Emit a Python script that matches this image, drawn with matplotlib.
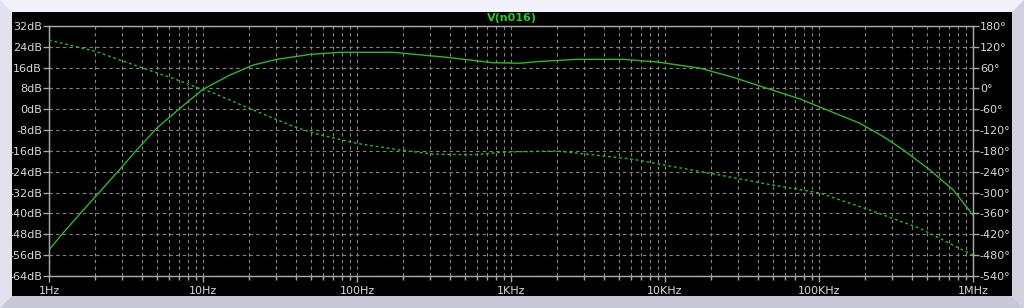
import matplotlib
matplotlib.use('Agg')
import matplotlib.pyplot as plt
from matplotlib.patches import Polygon, Rectangle
from matplotlib.ticker import FixedLocator, LogLocator, NullFormatter

# magnitude trace
mag_freq = [1.0, 1.2, 1.67, 2.14, 2.89, 3.71, 5.0, 7.08, 10.0, 15.0, 21.2, 30.1,
            42.7, 49.5, 77.6, 171, 380, 764, 1140, 1470, 2670, 5360, 8830,
            16900, 27700, 45700, 75300, 101000, 185000, 262000, 353000,
            526000, 745000, 1000000]
mag_db = [-54.0, -48.3, -38.7, -31.6, -23.0, -15.6, -7.3, 0.4, 7.7, 13.2, 17.0,
          19.2, 20.5, 21.1, 21.9, 21.9, 20.0, 17.9, 17.7, 18.3, 19.2, 19.2,
          18.2, 15.8, 12.3, 8.1, 4.0, 0.9, -5.4, -10.5, -15.6, -23.3, -31.0,
          -40.6]

# phase trace
ph_freq = [1.0, 2.04, 2.89, 4.31, 6.41, 10.0, 11.1, 20.2, 38.5, 54.7, 99.5,
           190, 312, 566, 847, 1140, 1980, 3100, 6220, 11300, 20600, 45700,
           101000, 214000, 453000, 1000000]
ph_deg = [139.7, 106, 82, 55, 29, -4, -9, -58, -109, -131, -158, -177, -189,
          -191, -184, -182, -180, -189, -204, -225, -246, -275, -301, -350,
          -403, -480]

x_ticks = [1, 10, 100, 1e3, 1e4, 1e5, 1e6]
x_labels = ['1Hz', '10Hz', '100Hz', '1KHz', '10KHz', '100KHz', '1MHz']
db_ticks = list(range(-64, 33, 8))
deg_ticks = list(range(-540, 181, 60))

trace = '#2CB82C'
axis_col = '#A8A8A8'
label_col = '#D8D8D8'
grid_col = '#858585'

plt.rcParams['font.family'] = ['DejaVu Sans']

fig = plt.figure(figsize=(10.24, 3.08), dpi=100)
fig.patch.set_facecolor('#F2F2FC')

W, H = 1024.0, 308.0
def fx(p):
    return p / W
def fy(p):
    return 1 - p / H

# bevelled window frame, kept behind the axes
frame = [
    ([(0, 0), (12, 12), (12, 296), (0, 308)], '#E2E2EE'),
    ([(0, 308), (12, 296), (1012, 296), (1024, 308)], '#C8C8D6'),
    ([(1024, 0), (1012, 12), (1012, 296), (1024, 308)], '#D0D0DE'),
]
for pts, col in frame:
    fig.patches.append(Polygon([(fx(a), fy(b)) for a, b in pts], closed=True,
                               transform=fig.transFigure, facecolor=col,
                               edgecolor='none', zorder=-10))
fig.patches.append(Rectangle((fx(12), fy(296)), 1000 / W, 284 / H,
                             transform=fig.transFigure, facecolor='black',
                             edgecolor='none', zorder=-9))

ax = fig.add_axes([fx(49), fy(276), 924 / W, 250 / H])
ax.set_facecolor('black')
ax.set_xscale('log')
ax.set_xlim(1, 1e6)
ax.set_ylim(-64, 32)

ax.xaxis.set_major_locator(FixedLocator(x_ticks))
ax.set_xticks(x_ticks)
ax.set_xticklabels(x_labels)
ax.xaxis.set_minor_locator(LogLocator(base=10, subs=range(2, 10)))
ax.xaxis.set_minor_formatter(NullFormatter())
ax.set_yticks(db_ticks)
ax.set_yticklabels([f'{v}dB' for v in db_ticks])

ax.grid(True, which='both', axis='x', color=grid_col, linestyle=(0, (3, 3)), lw=0.8)
ax.grid(True, which='major', axis='y', color=grid_col, linestyle=(0, (3, 3)), lw=0.8)

for s in ax.spines.values():
    s.set_color(axis_col)
    s.set_linewidth(1)
ax.tick_params(which='both', colors=axis_col, labelcolor=label_col, labelsize=8,
               direction='out', length=4, width=1, pad=1)
ax.tick_params(axis='x', which='minor', length=3)
ax.tick_params(axis='x', pad=3)

ax.plot(mag_freq, mag_db, color=trace, lw=1.0, zorder=5)

ax2 = ax.twinx()
ax2.set_ylim(-540, 180)
ax2.set_yticks(deg_ticks)
ax2.set_yticklabels([f'{v}\u00b0' for v in deg_ticks])
for s in ax2.spines.values():
    s.set_color(axis_col)
ax2.tick_params(colors=axis_col, labelcolor=label_col, labelsize=8,
                direction='out', length=4, width=1, pad=1)
ax2.plot(ph_freq, ph_deg, color=trace, lw=1.0, linestyle=(0, (2, 2)), zorder=5)

fig.text(fx(512), fy(18), 'V(n016)', color='#22D022', fontsize=8,
         fontweight='bold', ha='center', va='center')

plt.savefig('out.png', dpi=100, facecolor=fig.get_facecolor())
plt.close()
